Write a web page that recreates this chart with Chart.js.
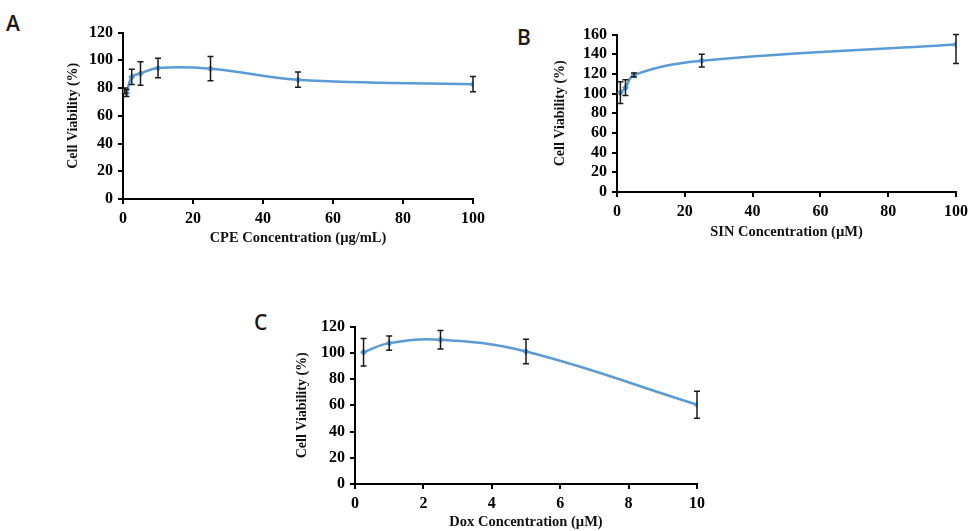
<!DOCTYPE html>
<html>
<head>
<meta charset="utf-8">
<script src="https://cdn.jsdelivr.net/npm/chart.js@4.4.1/dist/chart.umd.min.js"></script>
<style>
  html, body { margin: 0; padding: 0; background: #fff; }
  body { width: 973px; height: 531px; position: relative; overflow: hidden; }
  canvas { position: absolute; }
  .lbl { position: absolute; font-family: "Open Sans", sans-serif; font-size: 21px; font-weight: 600; color: #1a1a1a; line-height: 1; }
</style>
</head>
<body>
<div class="lbl" style="left:6px;top:13px;">A</div>
<div class="lbl" style="left:517px;top:27px;">B</div>
<div class="lbl" style="left:254px;top:312px;">C</div>
<canvas id="cA" width="440" height="232" style="left:50px;top:18px;"></canvas>
<canvas id="cB" width="443" height="225" style="left:530px;top:20px;"></canvas>
<canvas id="cC" width="450" height="219" style="left:270px;top:312px;"></canvas>
<script>
// ---- Data ----
const cpeConc      = [0.5, 1, 2.5, 5, 10, 25, 50, 100];
const cpeViability = [78, 76.5, 88, 90.5, 94.5, 94, 86, 82.8];
const cpeError     = [2, 2.5, 5.5, 8.5, 7, 8.8, 5.5, 5.5];

const sinConc      = [1, 2.5, 5, 25, 100];
const sinViability = [101, 106, 119, 133.5, 150];
const sinError     = [11, 8, 2, 6.5, 19.5];

const doxConc      = [0.25, 1, 2.5, 5, 10];
const doxViability = [100.4, 107.4, 110, 101, 60.5];
const doxError     = [10.5, 5.5, 7, 9.3, 10.3];

const cpeXTicks = [0, 20, 40, 60, 80, 100];
const sinXTicks = [0, 20, 40, 60, 80, 100];
const doxXTicks = [0, 2, 4, 6, 8, 10];

const LINE_COLOR = 'rgb(91,155,213)';
const SERIF = '"Liberation Serif", "Times New Roman", serif';

const errorBarPlugin = {
  id: 'errorBars',
  afterDatasetsDraw(chart) {
    const ds = chart.data.datasets[0];
    const errs = ds.errors || [];
    const xs = chart.scales.x, ys = chart.scales.y;
    const ctx = chart.ctx;
    ctx.save();
    ctx.strokeStyle = '#1a1a1a';
    ctx.lineWidth = 1.5;
    ds.data.forEach((p, i) => {
      const e = errs[i];
      if (!e) return;
      const px = xs.getPixelForValue(p.x);
      const top = ys.getPixelForValue(Math.min(p.y + e, ys.max));
      const bot = ys.getPixelForValue(Math.max(p.y - e, ys.min));
      ctx.beginPath();
      ctx.moveTo(px, top); ctx.lineTo(px, bot);
      ctx.moveTo(px - 3, top); ctx.lineTo(px + 3, top);
      ctx.moveTo(px - 3, bot); ctx.lineTo(px + 3, bot);
      ctx.stroke();
    });
    ctx.restore();
  }
};

function makeChart(id, xs, ys, errs, xTicks, yMax, xTitle, cfg) {
  const pts = xs.map((x, i) => ({ x: x, y: ys[i] }));
  const xMax = xTicks[xTicks.length - 1];
  const xStep = xTicks[1] - xTicks[0];
  return new Chart(document.getElementById(id), {
    type: 'line',
    data: {
      datasets: [{
        data: pts,
        errors: errs,
        borderColor: LINE_COLOR,
        backgroundColor: LINE_COLOR,
        borderWidth: 2.5,
        tension: 0.4,
        pointStyle: 'rectRot',
        pointRadius: 3.5,
        pointBorderWidth: 0,
        fill: false
      }]
    },
    options: {
      responsive: false,
      animation: false,
      layout: { padding: { left: 0, right: cfg.padRight, top: cfg.padTop, bottom: 0 } },
      plugins: { legend: { display: false }, tooltip: { enabled: false } },
      scales: {
        x: {
          type: 'linear',
          min: 0, max: xMax,
          afterBuildTicks: (s) => { s.ticks = xTicks.map(v => ({ value: v })); },
          ticks: { color: '#000', font: { family: SERIF, size: 16, weight: 'bold' }, padding: 5, stepSize: xStep, autoSkip: false, maxRotation: 0 },
          grid: { drawOnChartArea: false, drawTicks: true, tickLength: 5, color: '#000', lineWidth: 2 },
          border: { color: '#000', width: 2 },
          title: { display: true, text: xTitle, color: '#111', font: { family: SERIF, size: 14.5, weight: 'bold' }, padding: { top: 0, bottom: cfg.xTitlePad } },
          afterFit: (s) => { s.height = cfg.xAxisH; }
        },
        y: {
          min: 0, max: yMax,
          ticks: { color: '#000', font: { family: SERIF, size: 16, weight: 'bold' }, padding: 5, stepSize: 20, autoSkip: false },
          grid: { drawOnChartArea: false, drawTicks: true, tickLength: 5, color: '#000', lineWidth: 2 },
          border: { color: '#000', width: 2 },
          title: { display: true, text: 'Cell Viability (%)', color: '#111', font: { family: SERIF, size: 14, weight: 'bold' }, padding: { top: cfg.yTitlePad, bottom: 0 } },
          afterFit: (s) => { s.width = cfg.yAxisW; }
        }
      }
    },
    plugins: [errorBarPlugin]
  });
}

makeChart('cA', cpeConc, cpeViability, cpeError, cpeXTicks, 120, 'CPE Concentration (µg/mL)',
  { padRight: 16, padTop: 10, xAxisH: 51, yAxisW: 73, yTitlePad: 15, xTitlePad: 3 });
makeChart('cB', sinConc, sinViability, sinError, sinXTicks, 160, 'SIN Concentration (µM)',
  { padRight: 14, padTop: 13, xAxisH: 53, yAxisW: 87, yTitlePad: 22, xTitlePad: 4 });
makeChart('cC', doxConc, doxViability, doxError, doxXTicks, 120, 'Dox Concentration (µM)',
  { padRight: 23, padTop: 13, xAxisH: 47, yAxisW: 85, yTitlePad: 24, xTitlePad: 0 });
</script>
</body>
</html>
